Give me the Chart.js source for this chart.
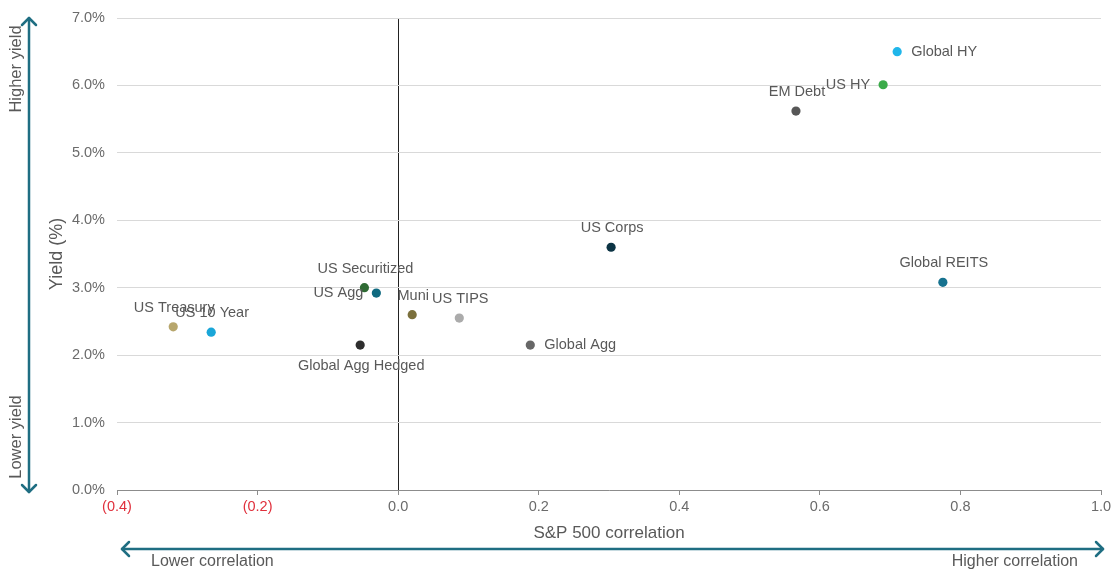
<!DOCTYPE html>
<html>
<head>
<meta charset="utf-8">
<script src="https://cdn.jsdelivr.net/npm/chart.js@4/dist/chart.umd.min.js"></script>
<style>
  html, body { margin: 0; padding: 0; background: #ffffff; }
  #wrap { width: 1112px; height: 571px; position: relative; }
</style>
</head>
<body>
<div id="wrap"><canvas id="chart" width="1112" height="571"></canvas></div>
<script>
// Asset classes: S&P 500 correlation vs. yield (%)
const assets = [
  'US Treasury', 'US 10 Year', 'US Securitized', 'US Agg', 'Muni', 'US TIPS',
  'Global Agg Hedged', 'Global Agg', 'US Corps', 'Global REITS', 'EM Debt', 'US HY', 'Global HY'
];
const correlation = [-0.32, -0.266, -0.048, -0.031, 0.020, 0.087, -0.054, 0.188, 0.303, 0.775, 0.566, 0.690, 0.710];
const yieldPct    = [2.42, 2.34, 3.00, 2.92, 2.60, 2.55, 2.15, 2.15, 3.60, 3.08, 5.62, 6.01, 6.50];
const xTicks = [-0.4, -0.2, 0.0, 0.2, 0.4, 0.6, 0.8, 1.0];
const yTicks = [0, 1, 2, 3, 4, 5, 6, 7];

// Styling per asset
const pointColors = [
  '#b7a66c', '#1aa6d8', '#2f6b34', '#0f6a80', '#7b703c', '#ababab',
  '#2e2e2e', '#676767', '#0c3444', '#16728f', '#575757', '#3aab49', '#20b6ea'
];
const labelSide = {
  'US Treasury': 'top', 'US 10 Year': 'top', 'US Securitized': 'top', 'US Agg': 'left',
  'Muni': 'top', 'US TIPS': 'top', 'Global Agg Hedged': 'bottom', 'Global Agg': 'right',
  'US Corps': 'top', 'Global REITS': 'top', 'EM Debt': 'top', 'US HY': 'left', 'Global HY': 'right'
};

const FONT = '"Liberation Sans", Arial, sans-serif';
const ARROW = '#1f6e82';
const TEXT = '#595959';

// Point labels next to each marker
const pointLabels = {
  id: 'pointLabels',
  afterDatasetsDraw(chart) {
    const ctx = chart.ctx;
    const meta = chart.getDatasetMeta(0);
    ctx.save();
    ctx.font = '14.5px ' + FONT;
    ctx.fillStyle = TEXT;
    meta.data.forEach((pt, i) => {
      const name = assets[i];
      const side = labelSide[name];
      let x = pt.x, y = pt.y;
      if (side === 'top') { ctx.textAlign = 'center'; ctx.textBaseline = 'middle'; y -= 19; x += 1; }
      else if (side === 'bottom') { ctx.textAlign = 'center'; ctx.textBaseline = 'middle'; y += 21; x += 1; }
      else if (side === 'left') { ctx.textAlign = 'right'; ctx.textBaseline = 'middle'; x -= 13; }
      else { ctx.textAlign = 'left'; ctx.textBaseline = 'middle'; x += 14; }
      ctx.fillText(name, x, y);
    });
    ctx.restore();
  }
};

// Direction arrows along both axes
function chevron(ctx, x, y, dir) {
  const s = 7;
  ctx.beginPath();
  if (dir === 'up')    { ctx.moveTo(x - s, y + s); ctx.lineTo(x, y); ctx.lineTo(x + s, y + s); }
  if (dir === 'down')  { ctx.moveTo(x - s, y - s); ctx.lineTo(x, y); ctx.lineTo(x + s, y - s); }
  if (dir === 'left')  { ctx.moveTo(x + s, y - s); ctx.lineTo(x, y); ctx.lineTo(x + s, y + s); }
  if (dir === 'right') { ctx.moveTo(x - s, y - s); ctx.lineTo(x, y); ctx.lineTo(x - s, y + s); }
  ctx.stroke();
}
const axisArrows = {
  id: 'axisArrows',
  afterDraw(chart) {
    const ctx = chart.ctx;
    const a = chart.chartArea;
    ctx.save();
    ctx.strokeStyle = ARROW;
    ctx.lineWidth = 2.5;
    ctx.lineCap = 'round';
    ctx.lineJoin = 'round';
    // vertical
    const vx = 29;
    ctx.beginPath(); ctx.moveTo(vx, a.top); ctx.lineTo(vx, a.bottom + 2); ctx.stroke();
    chevron(ctx, vx, a.top, 'up');
    chevron(ctx, vx, a.bottom + 2, 'down');
    // horizontal
    const hy = 549;
    ctx.beginPath(); ctx.moveTo(a.left + 5, hy); ctx.lineTo(a.right + 2, hy); ctx.stroke();
    chevron(ctx, a.left + 5, hy, 'left');
    chevron(ctx, a.right + 2, hy, 'right');

    ctx.fillStyle = TEXT;
    ctx.font = '16px ' + FONT;
    ctx.textBaseline = 'middle';
    ctx.textAlign = 'left';
    ctx.fillText('Lower correlation', 151, 562);
    ctx.textAlign = 'right';
    ctx.fillText('Higher correlation', 1078, 562);

    ctx.font = '16.5px ' + FONT;
    ctx.textAlign = 'center';
    ctx.save(); ctx.translate(16, 69); ctx.rotate(-Math.PI / 2); ctx.fillText('Higher yield', 0, 0); ctx.restore();
    ctx.save(); ctx.translate(16, 437); ctx.rotate(-Math.PI / 2); ctx.fillText('Lower yield', 0, 0); ctx.restore();
    ctx.restore();
  }
};

// Keep the plot area governed by the layout padding alone
function noOverflow(scale) {
  scale.paddingLeft = 0; scale.paddingRight = 0;
  scale.paddingTop = 0; scale.paddingBottom = 0;
}

new Chart(document.getElementById('chart'), {
  type: 'scatter',
  data: {
    datasets: [{
      data: assets.map((_, i) => ({ x: correlation[i], y: yieldPct[i] })),
      backgroundColor: pointColors,
      borderColor: pointColors,
      pointRadius: 4.6,
      pointHoverRadius: 4.6,
      borderWidth: 0
    }]
  },
  options: {
    responsive: false,
    animation: false,
    devicePixelRatio: 1,
    layout: { padding: { left: 46, right: 11, top: 18, bottom: 27 } },
    plugins: { legend: { display: false }, tooltip: { enabled: false } },
    scales: {
      x: {
        type: 'linear',
        min: -0.4, max: 1.0,
        afterBuildTicks(scale) { scale.ticks = xTicks.map(v => ({ value: v })); },
        afterFit(scale) { scale.height = 54; noOverflow(scale); },
        border: { display: true, color: '#8c8c8c', width: 1 },
        grid: {
          drawOnChartArea: true,
          color: (c) => (c.tick && c.tick.value === 0) ? '#222222' : 'rgba(0,0,0,0)',
          lineWidth: 1,
          tickColor: '#8c8c8c',
          tickLength: 5
        },
        ticks: {
          padding: 3,
          font: { family: FONT, size: 14.5 },
          color: (c) => (c.tick && c.tick.value < 0) ? '#e0303c' : '#6b6b6b',
          callback: (v) => v < 0 ? '(' + Math.abs(v).toFixed(1) + ')' : v.toFixed(1)
        },
        title: {
          display: true,
          text: 'S&P 500 correlation',
          color: TEXT,
          font: { family: FONT, size: 17 },
          padding: { top: 0, bottom: 0 }
        }
      },
      y: {
        type: 'linear',
        min: 0, max: 7,
        afterBuildTicks(scale) { scale.ticks = yTicks.map(v => ({ value: v })); },
        afterFit(scale) { scale.width = 71; noOverflow(scale); },
        border: { display: false },
        grid: { color: '#d9d9d9', lineWidth: 1, drawTicks: false },
        ticks: {
          padding: 12,
          font: { family: FONT, size: 14.5 },
          color: '#6b6b6b',
          callback: (v) => v.toFixed(1) + '%'
        },
        title: {
          display: true,
          text: 'Yield (%)',
          color: TEXT,
          font: { family: FONT, size: 18 },
          padding: { top: 0, bottom: 0 }
        }
      }
    }
  },
  plugins: [pointLabels, axisArrows]
});
</script>
</body>
</html>
